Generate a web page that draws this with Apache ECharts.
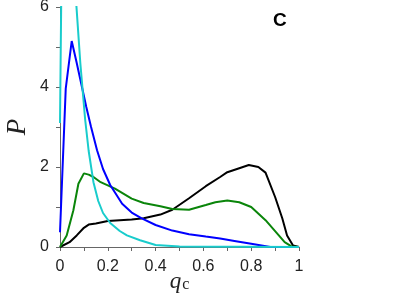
<!DOCTYPE html>
<html>
<head>
<meta charset="utf-8">
<script src="https://cdn.jsdelivr.net/npm/echarts@6/dist/echarts.min.js"></script>
<style>html,body{margin:0;padding:0;background:#fff}#c{width:399px;height:299px}</style>
</head>
<body>
<div id="c"></div>
<script>
// Tick labels
var xTicks = [0, 0.2, 0.4, 0.6, 0.8, 1];
var yTicks = [0, 2, 4, 6];

// Black series
var xBlack = [0, 0.04, 0.07, 0.10, 0.12, 0.15, 0.20, 0.25, 0.30, 0.35, 0.42, 0.47, 0.54, 0.61, 0.67, 0.70, 0.75, 0.79, 0.83, 0.86, 0.90, 0.93, 0.95, 0.975, 1.0];
var yBlack = [0, 0.12, 0.29, 0.48, 0.56, 0.59, 0.65, 0.67, 0.69, 0.72, 0.81, 0.93, 1.22, 1.52, 1.75, 1.87, 1.97, 2.05, 2.0, 1.86, 1.25, 0.72, 0.29, 0.04, 0];

// Green series
var xGreen = [0, 0.028, 0.056, 0.077, 0.10, 0.12, 0.14, 0.17, 0.23, 0.30, 0.35, 0.42, 0.47, 0.54, 0.61, 0.65, 0.70, 0.75, 0.80, 0.86, 0.91, 0.94, 0.97, 1.0];
var yGreen = [0, 0.29, 0.92, 1.58, 1.84, 1.81, 1.75, 1.62, 1.46, 1.21, 1.10, 1.02, 0.95, 0.93, 1.05, 1.12, 1.16, 1.12, 1.0, 0.67, 0.33, 0.12, 0.01, 0];

// Blue series
var xBlue = [0, 0.024, 0.049, 0.07, 0.09, 0.11, 0.13, 0.155, 0.18, 0.21, 0.26, 0.30, 0.34, 0.40, 0.47, 0.54, 0.61, 0.67, 0.73, 0.80, 0.88, 1.0];
var yBlue = [0.37, 3.96, 5.15, 4.6, 4.05, 3.5, 3.0, 2.42, 1.95, 1.55, 1.08, 0.86, 0.72, 0.55, 0.41, 0.32, 0.26, 0.21, 0.15, 0.08, 0.0, 0];

// Cyan series
var xCyan = [0, 0.02, 0.067, 0.085, 0.105, 0.12, 0.14, 0.16, 0.18, 0.21, 0.25, 0.28, 0.335, 0.40, 0.50, 1.0];
var yCyan = [3.1, 15, 6.17, 4.6, 3.2, 2.4, 1.62, 1.15, 0.85, 0.6, 0.4, 0.29, 0.17, 0.05, 0.01, 0];

function pairs(xs, ys) { return xs.map(function (x, i) { return [x, ys[i]]; }); }

var FONT = "'Liberation Sans', Arial, Helvetica, sans-serif";
var SERIF = "'Liberation Serif', 'DejaVu Serif', 'Times New Roman', serif";

function mk(name, color, xs, ys) {
  return {
    name: name, type: 'line', data: pairs(xs, ys),
    symbol: 'none', smooth: false, clip: true,
    lineStyle: { color: color, width: 2 },
    itemStyle: { color: color },
    animation: false
  };
}

var chart = echarts.init(document.getElementById('c'), null, { renderer: 'canvas' });
chart.setOption({
  animation: false,
  backgroundColor: '#fff',
  title: {
    text: 'C', left: 268, top: 6,
    textStyle: { fontFamily: FONT, fontWeight: 'bold', fontSize: 19, color: '#000' }
  },
  grid: { left: 60, right: 100, top: 7, bottom: 52, containLabel: false, outerBoundsMode: 'none' },
  xAxis: {
    type: 'value', min: 0, max: 1, interval: 0.1,
    name: '{q|q}{c|c}', nameLocation: 'middle', nameGap: 23, nameMoveOverlap: false,
    nameTextStyle: {
      rich: {
        q: { fontFamily: SERIF, fontStyle: 'italic', fontSize: 23, color: '#222' },
        c: { fontFamily: SERIF, fontSize: 16, color: '#222', padding: [7, 0, 0, 1] }
      }
    },
    axisLine: { show: true, lineStyle: { color: '#666', width: 1 } },
    axisTick: { show: true, length: 4, inside: false, lineStyle: { color: '#666' } },
    axisLabel: {
      margin: 12, fontFamily: FONT, fontSize: 16, color: '#222',
      formatter: function (v) {
        var k = Math.round(v * 10);
        if (k % 2 !== 0) return '';
        var t = xTicks[k / 2];
        return t === undefined ? '' : String(t);
      }
    },
    splitLine: { show: false }
  },
  yAxis: {
    type: 'value', min: 0, max: 6, interval: 1,
    name: 'P', nameLocation: 'middle', nameGap: 29, nameRotate: 90, nameMoveOverlap: false,
    nameTextStyle: { fontFamily: SERIF, fontStyle: 'italic', fontSize: 27, color: '#222' },
    axisLine: { show: true, lineStyle: { color: '#666', width: 1 } },
    axisTick: { show: true, length: 4, inside: false, lineStyle: { color: '#666' } },
    axisLabel: {
      margin: 11, fontFamily: FONT, fontSize: 16, color: '#222',
      formatter: function (v) {
        var k = Math.round(v);
        return yTicks.indexOf(k) >= 0 ? String(k) : '';
      }
    },
    splitLine: { show: false }
  },
  series: [
    mk('black', '#000000', xBlack, yBlack),
    mk('green', '#0a850a', xGreen, yGreen),
    mk('blue', '#0000ff', xBlue, yBlue),
    mk('cyan', '#19cccc', xCyan, yCyan)
  ]
});
</script>
</body>
</html>
